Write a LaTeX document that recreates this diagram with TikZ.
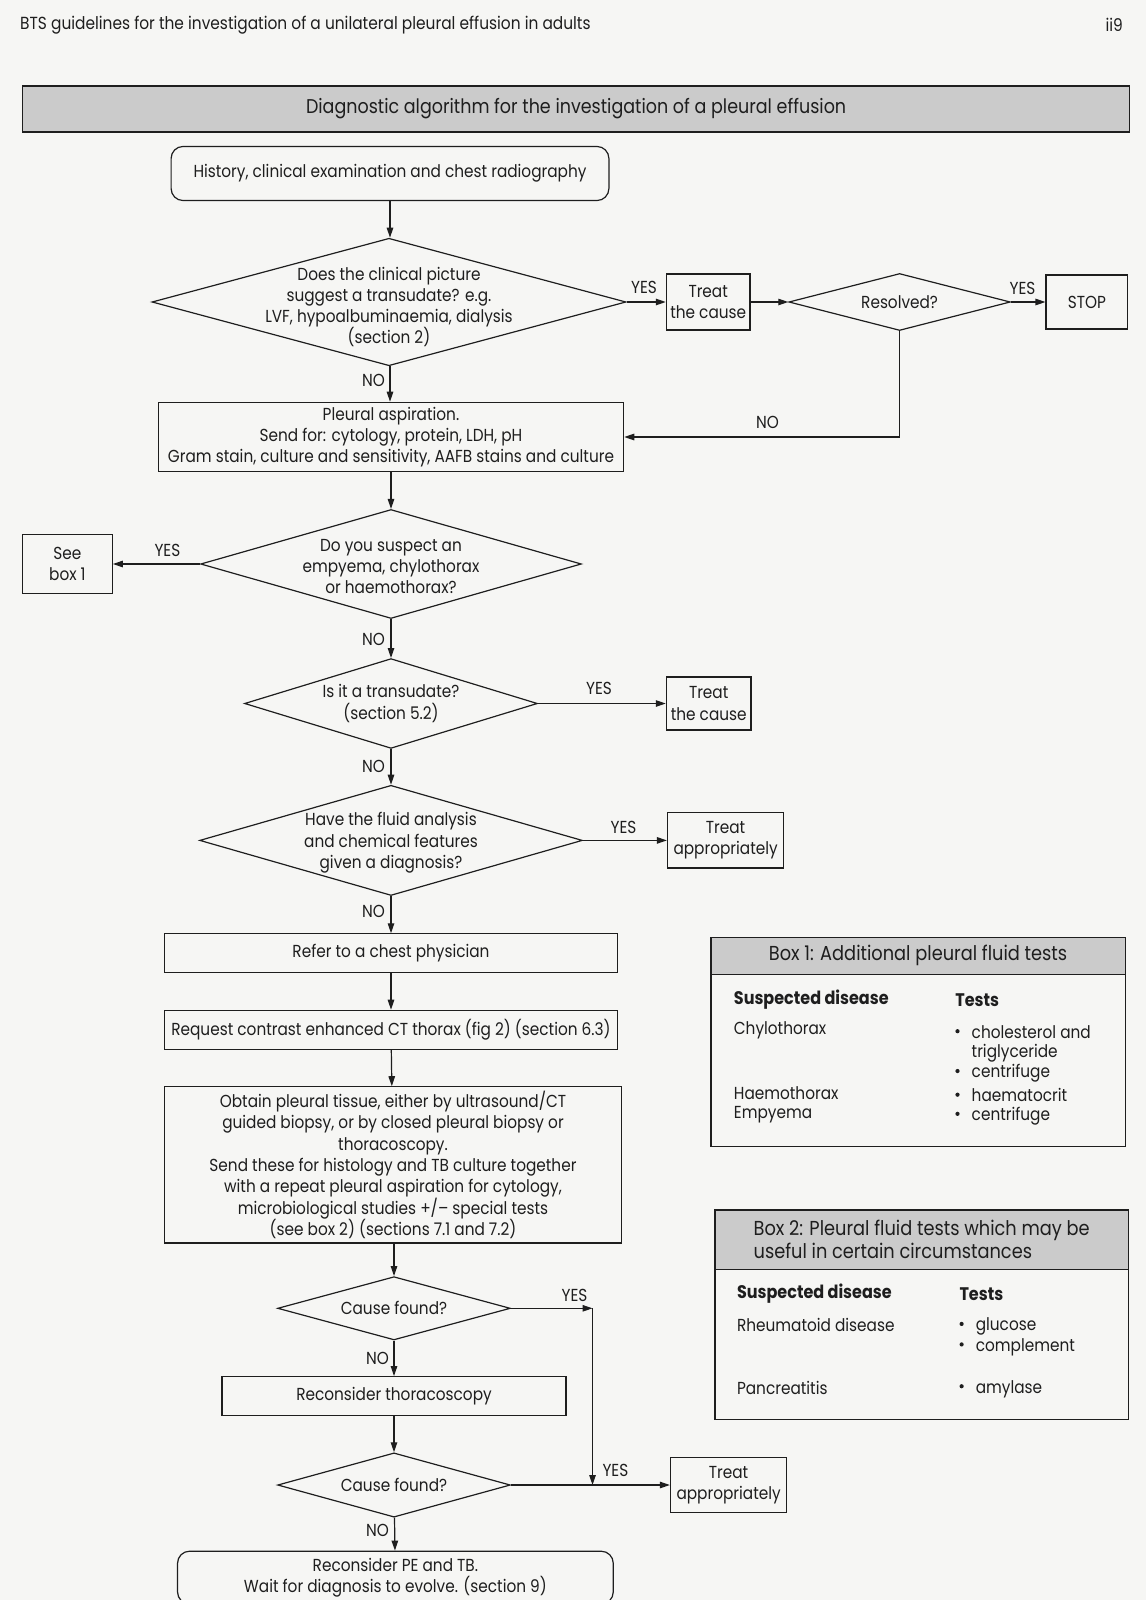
\documentclass[tikz,border=0pt]{standalone}
\usepackage{fontspec}
\setmainfont{Poppins}[FakeStretch=0.88]
\usetikzlibrary{arrows.meta,shapes.geometric}
\definecolor{ink}{RGB}{30,30,30}
\definecolor{paper}{RGB}{246,246,244}
\definecolor{band}{RGB}{203,203,203}
\newcommand\myflow{\fontsize{17.4}{21.3}\selectfont}
\newcommand\mybox{\fontsize{17.4}{21.3}\selectfont}
\newcommand\myboxb{\fontsize{18.2}{21.3}\selectfont\bfseries}
\newcommand\myboxt{\fontsize{20.2}{23.5}\selectfont}
\newcommand\myhead{\fontsize{17.5}{20}\selectfont}
\newcommand\mytitle{\fontsize{19.9}{23}\selectfont}
\newcommand\mybul{\makebox[16.3pt][l]{\raisebox{0.5ex}{\tikz\fill[ink] (0,0) circle (2.1pt);}}}
\begin{document}
\begin{tikzpicture}[x=1pt,y=-1pt,
  every node/.style={font=\myflow, text=ink},
  ln/.style={draw=ink, line width=1.2pt},
  box/.style={ln, rectangle, inner sep=0pt, align=center},
  rbox/.style={box, rounded corners=12pt},
  dia/.style={ln, diamond, inner sep=0pt},
  arr/.style={ln, -{Triangle[length=10pt,width=6.5pt]}},
  lab/.style={font=\myflow, inner sep=1pt},
  cell/.style={anchor=west, inner sep=0pt, font=\mybox},
  head/.style={anchor=west, inner sep=0pt, font=\myboxb}]
\useasboundingbox (0,0) rectangle (1146,1600);
\fill[paper] (0,0) rectangle (1146,1600);

% page header
\node[font=\myhead, anchor=west, inner sep=0pt] (hdr) at (20,25) {BTS guidelines for the investigation of a unilateral pleural effusion in adults};
\node[font=\myhead, anchor=east, inner sep=0pt] (pg) at (1123,25) {ii9};

% title band
\node[box, fill=band, minimum width=1107.2pt, minimum height=45.9pt, font=\mytitle] (title) at (576.1,109) {Diagnostic algorithm for the investigation of a pleural effusion};

% flow nodes
\node[rbox, minimum width=437.8pt, minimum height=54.1pt] (hist) at (390,173.5) {History, clinical examination and chest radiography};

\node[dia, minimum width=474pt, minimum height=127.5pt] (d1) at (389,302) {};
\node[align=center] (d1t) at (389,307) {Does the clinical picture\\suggest a transudate? e.g.\\LVF, hypoalbuminaemia, dialysis\\(section 2)};

\node[box, minimum width=83.7pt, minimum height=56pt] (t1) at (708.2,302) {Treat\\the cause};
\node[dia, minimum width=221.5pt, minimum height=57pt] (res) at (899.6,302) {};
\node (rest) at (899.6,302) {Resolved?};
\node[box, minimum width=81.7pt, minimum height=54pt] (stop) at (1086.9,302) {STOP};

\node[box, minimum width=465.3pt, minimum height=69.4pt] (pl) at (391,437) {Pleural aspiration.\\Send for: cytology, protein, LDH, pH\\Gram stain, culture and sensitivity, AAFB stains and culture};

\node[dia, minimum width=380.7pt, minimum height=109pt] (d2) at (391,564) {};
\node[align=center] (d2t) at (391,566.5) {Do you suspect an\\empyema, chylothorax\\or haemothorax?};
\node[box, minimum width=89.8pt, minimum height=59.2pt] (see) at (67.4,564) {See\\box 1};

\node[dia, minimum width=292.9pt, minimum height=89.8pt] (d3) at (391,703.5) {};
\node[align=center] (d3t) at (391,703.6) {Is it a transudate?\\(section 5.2)};
\node[box, minimum width=84.7pt, minimum height=53.1pt] (t2) at (708.7,703.5) {Treat\\the cause};

\node[dia, minimum width=382.7pt, minimum height=110.2pt] (d4) at (391,840.4) {};
\node[align=center] (d4t) at (391,842.8) {Have the fluid analysis\\and chemical features\\given a diagnosis?};
\node[box, minimum width=116.3pt, minimum height=55.1pt] (ta) at (725.6,840.4) {Treat\\appropriately};

\node[box, minimum width=453.1pt, minimum height=38.7pt] (refer) at (391,953.2) {Refer to a chest physician};
\node[box, minimum width=453.1pt, minimum height=38.8pt] (req) at (391,1029.7) {Request contrast enhanced CT thorax (fig 2) (section 6.3)};
\node[box, minimum width=457.2pt, minimum height=156.2pt] (obt) at (393,1164.9) {Obtain pleural tissue, either by ultrasound/CT\\guided biopsy, or by closed pleural biopsy or\\thoracoscopy.\\Send these for histology and TB culture together\\with a repeat pleural aspiration for cytology,\\microbiological studies +/\textendash{} special tests\\(see box 2) (sections 7.1 and 7.2)};

\node[dia, minimum width=232.7pt, minimum height=63.3pt] (d5) at (394,1308.3) {};
\node (d5t) at (394,1308.3) {Cause found?};
\node[box, minimum width=343.9pt, minimum height=38.7pt] (recon) at (394,1396) {Reconsider thoracoscopy};
\node[dia, minimum width=232.7pt, minimum height=64.3pt] (d6) at (394,1485) {};
\node (d6t) at (394,1485) {Cause found?};
\node[box, minimum width=116.3pt, minimum height=55.1pt] (ta2) at (728.6,1485) {Treat\\appropriately};
\node[rbox, minimum width=435.7pt, minimum height=52.8pt] (pe) at (395.4,1577.6) {Reconsider PE and TB.\\Wait for diagnosis to evolve. (section 9)};

\coordinate (j1) at (592.5,1308.3);

% connectors
\draw[arr] (hist) -- (hist |- d1.north);
\draw[arr] (d1) -- (t1);
\draw[arr] (t1) -- (res);
\draw[arr] (res) -- (stop);
\draw[arr] (res.south) |- (pl.east);
\draw[arr] (d1.south -| hist) -- (pl.north -| hist);
\draw[arr] (pl) -- (d2);
\draw[arr] (d2) -- (see);
\draw[arr] (d2) -- (d3);
\draw[arr] (d3) -- (t2);
\draw[arr] (d3) -- (d4);
\draw[arr] (d4) -- (ta);
\draw[arr] (d4) -- (refer);
\draw[arr] (refer) -- (req);
\draw[arr] (req) -- (obt);
\draw[arr] (obt.south -| d5) -- (d5);
\draw[arr] (d5) -- (recon);
\draw[arr] (recon) -- (d6);
\draw[arr] (d6) -- (ta2);
\draw[arr] (d6) -- (pe);
\draw[arr] (d5.east) -- (j1);
\draw[arr] (j1) -- (j1 |- d6.east);

% connector labels
\node[lab] (y1) at (644,287.8) {YES};
\node[lab] (y2) at (1022.5,288.8) {YES};
\node[lab] (n0) at (767.4,422.5) {NO};
\node[lab, anchor=east] (n1) at (386,380.6) {NO};
\node[lab] (y3) at (167.4,550) {YES};
\node[lab, anchor=east] (n2) at (386,639.9) {NO};
\node[lab] (y4) at (599,688.9) {YES};
\node[lab, anchor=east] (n3) at (386,766.4) {NO};
\node[lab] (y5) at (623.5,827.6) {YES};
\node[lab, anchor=east] (n4) at (386,911.3) {NO};
\node[lab] (y6) at (574.5,1295) {YES};
\node[lab, anchor=east] (n5) at (390,1358.3) {NO};
\node[lab] (y7) at (615.4,1470.5) {YES};
\node[lab, anchor=east] (n6) at (390,1530.7) {NO};

% Box 1
\node[box, anchor=north west, minimum width=414.3pt, minimum height=209.2pt] (b1) at (710.3,936.8) {};
\node[box, fill=band, anchor=north west, minimum width=414.3pt, minimum height=36.8pt, font=\myboxt] (b1h) at (710.3,936.8) {Box 1: Additional pleural fluid tests};
\node[head] (b1s) at (733.7,1000.1) {Suspected disease};
\node[head] (b1t) at (955.2,1000.1) {Tests};
\node[cell] (b1a) at (733.7,1030.7) {Chylothorax};
\node[cell] (b1b) at (733.7,1093.5) {Haemothorax};
\node[cell] (b1c) at (733.7,1114.4) {Empyema};
\node[cell] (b1p) at (955.2,1031.7) {\mybul cholesterol and};
\node[cell] (b1q) at (971.5,1053.2) {triglyceride};
\node[cell] (b1r) at (955.2,1073.6) {\mybul centrifuge};
\node[cell] (b1u) at (955.2,1095) {\mybul haematocrit};
\node[cell] (b1v) at (955.2,1116.4) {\mybul centrifuge};

% Box 2
\node[box, anchor=north west, minimum width=413.3pt, minimum height=209.2pt] (b2) at (714.4,1209.3) {};
\node[box, fill=band, anchor=north west, minimum width=413.3pt, minimum height=59.2pt, font=\myboxt, align=left] (b2h) at (714.4,1209.3) {Box 2: Pleural fluid tests which may be\\useful in certain circumstances};
\node[head] (b2s) at (736.8,1294) {Suspected disease};
\node[head] (b2t) at (959.3,1294) {Tests};
\node[cell] (b2a) at (736.8,1324.6) {Rheumatoid disease};
\node[cell] (b2p) at (959.3,1326.7) {\mybul glucose};
\node[cell] (b2q) at (959.3,1347.1) {\mybul complement};
\node[cell] (b2b) at (736.8,1387.9) {Pancreatitis};
\node[cell] (b2r) at (959.3,1388.9) {\mybul amylase};
\end{tikzpicture}
\end{document}
